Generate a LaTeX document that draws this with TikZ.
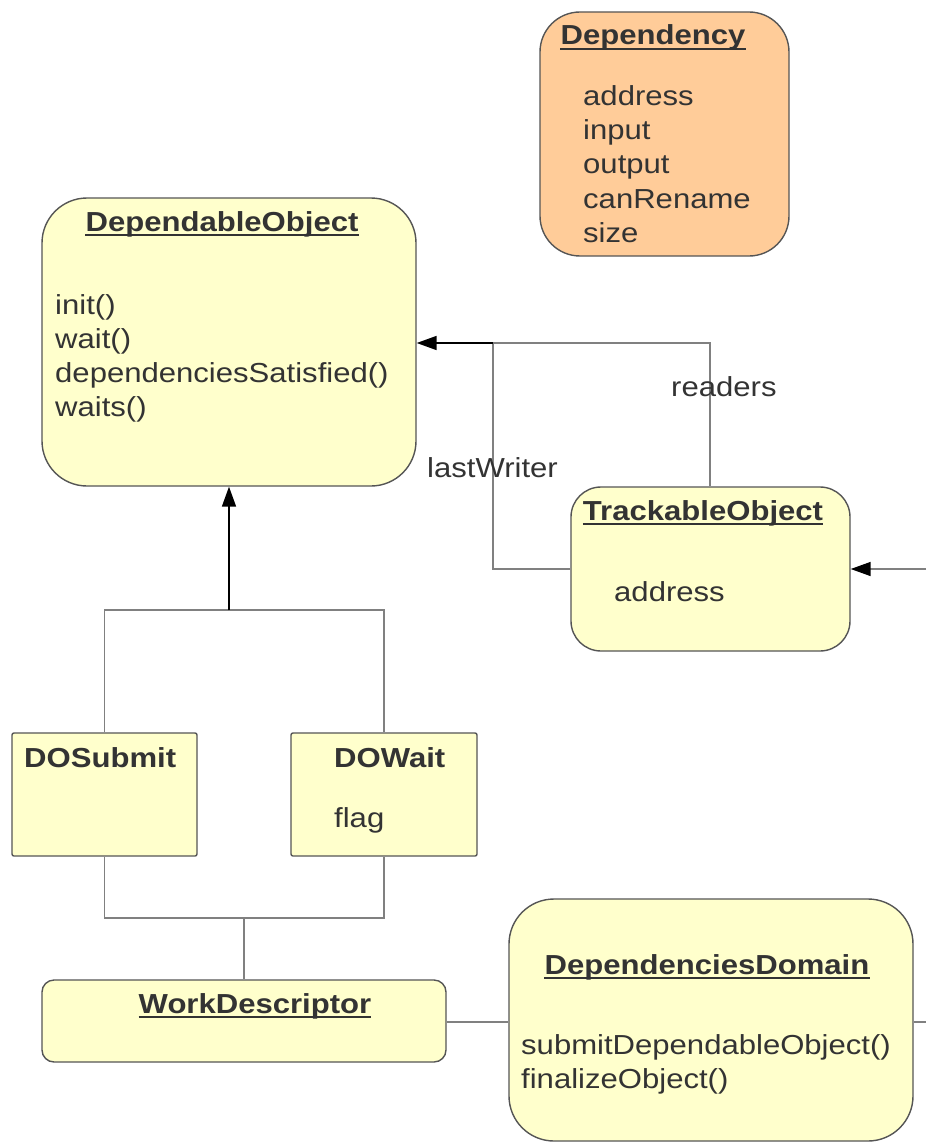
\documentclass[tikz,border=0pt]{standalone}
\usepackage{fontspec}
\setmainfont[FakeStretch=1.13]{Liberation Sans}
\usetikzlibrary{arrows.meta}
\definecolor{umlyellow}{RGB}{255,255,204}
\definecolor{umlorange}{RGB}{255,204,153}
\definecolor{umlborder}{RGB}{85,85,85}
\definecolor{umlline}{RGB}{128,128,128}
\definecolor{umltext}{RGB}{51,51,51}
\tikzset{
  box/.style={draw=umlborder, line width=1.4pt, fill=umlyellow, inner sep=0pt},
  txt/.style={inner sep=0pt, anchor=base west, text=umltext,
              font=\fontsize{27.5}{34}\selectfont},
  ttl/.style={txt, font=\fontsize{27.5}{34}\selectfont\bfseries},
  conn/.style={draw=umlline, line width=1.5pt},
  gen/.style={draw=black, line width=1.7pt,
              -{Triangle[length=20pt,width=14pt]}},
  assoc/.style={conn, -{Triangle[length=20pt,width=14pt,color=black]}},
  uline/.style={draw=umltext, line width=1.4pt},
}
\begin{document}
\begin{tikzpicture}[x=1pt, y=-1pt]
\useasboundingbox (0,0) rectangle (926,1142);

% class boxes
\node[box, fill=umlorange, rounded corners=40pt, minimum width=249pt, minimum height=244pt] (dep) at (664.5,134) {};
\node[box, rounded corners=45pt, minimum width=374pt, minimum height=288pt] (dobj) at (229,342) {};
\node[box, rounded corners=30pt, minimum width=279pt, minimum height=164pt] (trk) at (710.5,569) {};
\node[box, rounded corners=2pt, minimum width=185pt, minimum height=123pt] (dsub) at (104.5,794.5) {};
\node[box, rounded corners=2pt, minimum width=186pt, minimum height=123pt] (dwait) at (384,794.5) {};
\node[box, rounded corners=12pt, minimum width=404pt, minimum height=82pt] (work) at (244,1021) {};
\node[box, rounded corners=45pt, minimum width=404pt, minimum height=242pt] (ddom) at (711,1020) {};

% Dependency
\node[ttl, anchor=base] (depT) at (653,45) {Dependency};
\draw[uline] ([yshift=-4pt]depT.base west) -- ([yshift=-4pt]depT.base east);
\node[txt] (depA1) at (583,106) {address};
\node[txt] (depA2) at (583,140) {input};
\node[txt] (depA3) at (583,174) {output};
\node[txt] (depA4) at (583,208) {canRename};
\node[txt] (depA5) at (583,242) {size};

% DependableObject
\node[ttl, anchor=base] (dobjT) at (222,231) {DependableObject};
\draw[uline] ([yshift=-4pt]dobjT.base west) -- ([yshift=-4pt]dobjT.base east);
\node[txt] (dobjM1) at (55,314) {init()};
\node[txt] (dobjM2) at (55,348) {wait()};
\node[txt] (dobjM3) at (55,382) {dependenciesSatisfied()};
\node[txt] (dobjM4) at (55,416) {waits()};

% TrackableObject
\node[ttl, anchor=base] (trkT) at (703,520) {TrackableObject};
\draw[uline] ([yshift=-4pt]trkT.base west) -- ([yshift=-4pt]trkT.base east);
\node[txt] (trkA1) at (614,601) {address};

% DOSubmit / DOWait
\node[ttl] (dsubT) at (24,767) {DOSubmit};
\node[ttl] (dwaitT) at (334,767) {DOWait};
\node[txt] (dwaitA1) at (334,827) {flag};

% WorkDescriptor
\node[ttl, anchor=base] (workT) at (255,1013) {WorkDescriptor};
\draw[uline] ([yshift=-4pt]workT.base west) -- ([yshift=-4pt]workT.base east);

% DependenciesDomain
\node[ttl, anchor=base] (ddomT) at (707,974) {DependenciesDomain};
\draw[uline] ([yshift=-4pt]ddomT.base west) -- ([yshift=-4pt]ddomT.base east);
\node[txt] (ddomM1) at (521,1054) {submitDependableObject()};
\node[txt] (ddomM2) at (521,1088) {finalizeObject()};

% junction points
\coordinate (inhJ) at (229,610);
\coordinate (wdJ) at (244,918);
\coordinate (trkJ) at (493,343);
\coordinate (offR) at (926,569);
\coordinate (offD) at (926,1022);

% generalisation DOSubmit / DOWait -> DependableObject
\draw[conn] (dsub.north) |- (inhJ) -| (dwait.north);
\draw[gen] (inhJ) -- (dobj.south);

% WorkDescriptor -> DOSubmit / DOWait
\draw[conn] (dsub.south) |- (wdJ) -| (dwait.south);
\draw[conn] (wdJ) -- (work.north);

% WorkDescriptor -- DependenciesDomain
\draw[conn] (work.east |- 0,1022) -- (ddom.west |- 0,1022);
\draw[conn] (ddom.east |- 0,1022) -- (offD);

% TrackableObject -> DependableObject (lastWriter, readers)
\draw[conn] (trk.west) -| (trkJ);
\draw[conn] (trk.north -| 710,0) |- (trkJ);
\draw[gen] (trkJ) -- (dobj.east |- trkJ);
\node[txt] (lblW) at (427,477) {lastWriter};
\node[txt] (lblR) at (671,396) {readers};

% incoming association on TrackableObject
\draw[assoc] (offR) -- (trk.east);
\end{tikzpicture}
\end{document}
